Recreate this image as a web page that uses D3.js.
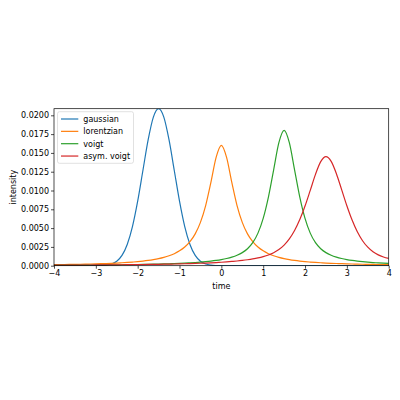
<!DOCTYPE html>
<html>
<head>
<meta charset="utf-8">
<script src="https://cdn.jsdelivr.net/npm/d3@7"></script>
<style>
  body { margin: 0; background: #fff; }
  svg { display: block; }
  text { font-family: "DejaVu Sans", sans-serif; }
</style>
</head>
<body>
<svg width="400" height="400"></svg>
<script>
// sample times (x)
const time = [-4, -3.875, -3.75, -3.625, -3.5, -3.375, -3.25, -3.125, -3, -2.875, -2.75, -2.625,
  -2.5, -2.375, -2.25, -2.125, -2, -1.875, -1.75, -1.625, -1.5, -1.375, -1.25, -1.125, -1,
  -0.875, -0.75, -0.625, -0.5, -0.375, -0.25, -0.125, 0, 0.125, 0.25, 0.375, 0.5, 0.625, 0.75,
  0.875, 1, 1.125, 1.25, 1.375, 1.5, 1.625, 1.75, 1.875, 2, 2.125, 2.25, 2.375, 2.5, 2.625,
  2.75, 2.875, 3, 3.125, 3.25, 3.375, 3.5, 3.625, 3.75, 3.875, 4];

// intensities, one per time
const gaussian = [0, 0, 0, 0, 0, 0, 0.0000004, 0.0000017, 0.000007, 0.0000251, 0.0000807,
  0.000232, 0.000596, 0.001372, 0.002826, 0.005206, 0.008584, 0.012664, 0.016719, 0.019752,
  0.02088, 0.019752, 0.016719, 0.012664, 0.008584, 0.005206, 0.002826, 0.001372, 0.000596,
  0.000232, 0.0000807, 0.0000251, 0.000007, 0.0000017, 0.0000004,
  0, 0, 0, 0, 0, 0, 0, 0, 0, 0, 0, 0, 0, 0, 0, 0, 0, 0, 0, 0, 0, 0, 0, 0, 0, 0, 0, 0, 0, 0];

const lorentzian = [0.000139, 0.000148, 0.000158, 0.000169, 0.000182, 0.000195, 0.00021,
  0.000227, 0.000246, 0.000268, 0.000292, 0.00032, 0.000352, 0.000389, 0.000432, 0.000483,
  0.000543, 0.000615, 0.000702, 0.000809, 0.000941, 0.001108, 0.001321, 0.0016, 0.001973,
  0.002483, 0.0032, 0.004235, 0.00576, 0.008, 0.011077, 0.0144, 0.016, 0.0144, 0.011077,
  0.008, 0.00576, 0.004235, 0.0032, 0.002483, 0.001973, 0.0016, 0.001321, 0.001108, 0.000941,
  0.000809, 0.000702, 0.000615, 0.000543, 0.000483, 0.000432, 0.000389, 0.000352, 0.00032,
  0.000292, 0.000268, 0.000246, 0.000227, 0.00021, 0.000195, 0.000182, 0.000169, 0.000158,
  0.000148, 0.000139];

const voigt = [0.0000641, 0.0000671, 0.0000704, 0.0000738, 0.0000775, 0.0000815, 0.0000858,
  0.0000905, 0.0000956, 0.000101, 0.000107, 0.000114, 0.000121, 0.000129, 0.000137, 0.000147,
  0.000157, 0.000169, 0.000182, 0.000197, 0.000213, 0.000232, 0.000253, 0.000277, 0.000305,
  0.000337, 0.000374, 0.000418, 0.00047, 0.000533, 0.000608, 0.0007, 0.000814, 0.000958,
  0.001145, 0.001393, 0.00174, 0.002256, 0.00306, 0.004334, 0.006298, 0.00913, 0.012756,
  0.016357, 0.018, 0.016357, 0.012756, 0.00913, 0.006298, 0.004334, 0.00306, 0.002256,
  0.00174, 0.001393, 0.001145, 0.000958, 0.000814, 0.0007, 0.000608, 0.000533, 0.00047,
  0.000418, 0.000374, 0.000337, 0.000305];

const asymVoigt = [0.0000709, 0.0000736, 0.0000766, 0.0000797, 0.0000831, 0.0000866, 0.0000904,
  0.0000944, 0.0000987, 0.000103, 0.000108, 0.000113, 0.000119, 0.000125, 0.000132, 0.000139,
  0.000147, 0.000155, 0.000164, 0.000174, 0.000185, 0.000197, 0.00021, 0.000224, 0.00024,
  0.000258, 0.000278, 0.0003, 0.000324, 0.000352, 0.000384, 0.000419, 0.00046, 0.000508,
  0.000563, 0.000626, 0.000702, 0.000792, 0.000901, 0.001035, 0.001207, 0.001431, 0.001734,
  0.002156, 0.002746, 0.003566, 0.004679, 0.006132, 0.007938, 0.010022, 0.012146, 0.013837,
  0.0145, 0.013867, 0.012228, 0.010113, 0.007971, 0.006067, 0.004512, 0.003322, 0.002459,
  0.001856, 0.001444, 0.001162, 0.000964];

const seriesNames = ["gaussian", "lorentzian", "voigt", "asym. voigt"];
const seriesValues = [gaussian, lorentzian, voigt, asymVoigt];
const colors = ["#1f77b4", "#ff7f0e", "#2ca02c", "#d62728"];

const xTicks = [-4, -3, -2, -1, 0, 1, 2, 3, 4];
const yTicks = [0, 0.0025, 0.005, 0.0075, 0.01, 0.0125, 0.015, 0.0175, 0.02];

const svg = d3.select("svg");
const plotLeft = 54, plotRight = 388.7, plotTop = 108.7, plotBottom = 265.7;

const x = d3.scaleLinear().domain([-4, 4]).range([plotLeft, plotRight]);
const yMax = d3.max(seriesValues, s => d3.max(s));
const y = d3.scaleLinear().domain([0, yMax]).range([plotBottom, plotTop]);

// clip so lines stay inside the axes box
svg.append("clipPath").attr("id", "plot-clip")
  .append("rect")
  .attr("x", plotLeft).attr("y", plotTop)
  .attr("width", plotRight - plotLeft).attr("height", plotBottom - plotTop);

const line = d3.line()
  .x((d, i) => x(time[i]))
  .y(d => y(d))
  .curve(d3.curveMonotoneX);

svg.append("g")
  .attr("clip-path", "url(#plot-clip)")
  .selectAll("path")
  .data(seriesValues)
  .enter()
  .append("path")
  .attr("d", line)
  .attr("fill", "none")
  .attr("stroke", (d, i) => colors[i])
  .attr("stroke-width", 1.2);

// axes
const xAxis = svg.append("g")
  .attr("transform", `translate(0,${plotBottom})`)
  .call(d3.axisBottom(x).tickValues(xTicks).tickSize(3).tickPadding(2).tickFormat(d3.format("d")));

const yAxis = svg.append("g")
  .attr("transform", `translate(${plotLeft},0)`)
  .call(d3.axisLeft(y).tickValues(yTicks).tickSize(3).tickPadding(2).tickFormat(d3.format(".4f")));

[xAxis, yAxis].forEach(g => {
  g.select(".domain").remove();
  g.selectAll(".tick line").attr("stroke", "#000").attr("stroke-width", 0.7);
  g.selectAll(".tick text").attr("fill", "#000").style("font-size", "8px")
    .style("font-family", "'DejaVu Sans', sans-serif");
});

// spines
svg.append("rect")
  .attr("x", plotLeft).attr("y", plotTop)
  .attr("width", plotRight - plotLeft).attr("height", plotBottom - plotTop)
  .attr("fill", "none")
  .attr("stroke", "#000")
  .attr("stroke-width", 0.7);

// axis labels
svg.append("text")
  .attr("x", (plotLeft + plotRight) / 2)
  .attr("y", 289)
  .attr("text-anchor", "middle")
  .style("font-size", "8px")
  .text("time");

svg.append("text")
  .attr("transform", `translate(15.5,${(plotTop + plotBottom) / 2}) rotate(-90)`)
  .attr("text-anchor", "middle")
  .style("font-size", "8px")
  .text("intensity");

// legend
const legend = svg.append("g");
legend.append("rect")
  .attr("x", 57.5).attr("y", 111.7)
  .attr("width", 76).attr("height", 51.6)
  .attr("rx", 2)
  .attr("fill", "#fff").attr("fill-opacity", 0.8)
  .attr("stroke", "#ccc").attr("stroke-width", 0.6);

const rows = legend.selectAll("g.row")
  .data(seriesNames)
  .enter()
  .append("g")
  .attr("class", "row")
  .attr("transform", (d, i) => `translate(0,${119 + i * 12.35})`);

rows.append("line")
  .attr("x1", 61).attr("x2", 78.3)
  .attr("stroke", (d, i) => colors[i])
  .attr("stroke-width", 1.2);

rows.append("text")
  .attr("x", 83.3)
  .attr("dy", "0.35em")
  .style("font-size", "8px")
  .attr("fill", "#000")
  .text(d => d);
</script>
</body>
</html>
